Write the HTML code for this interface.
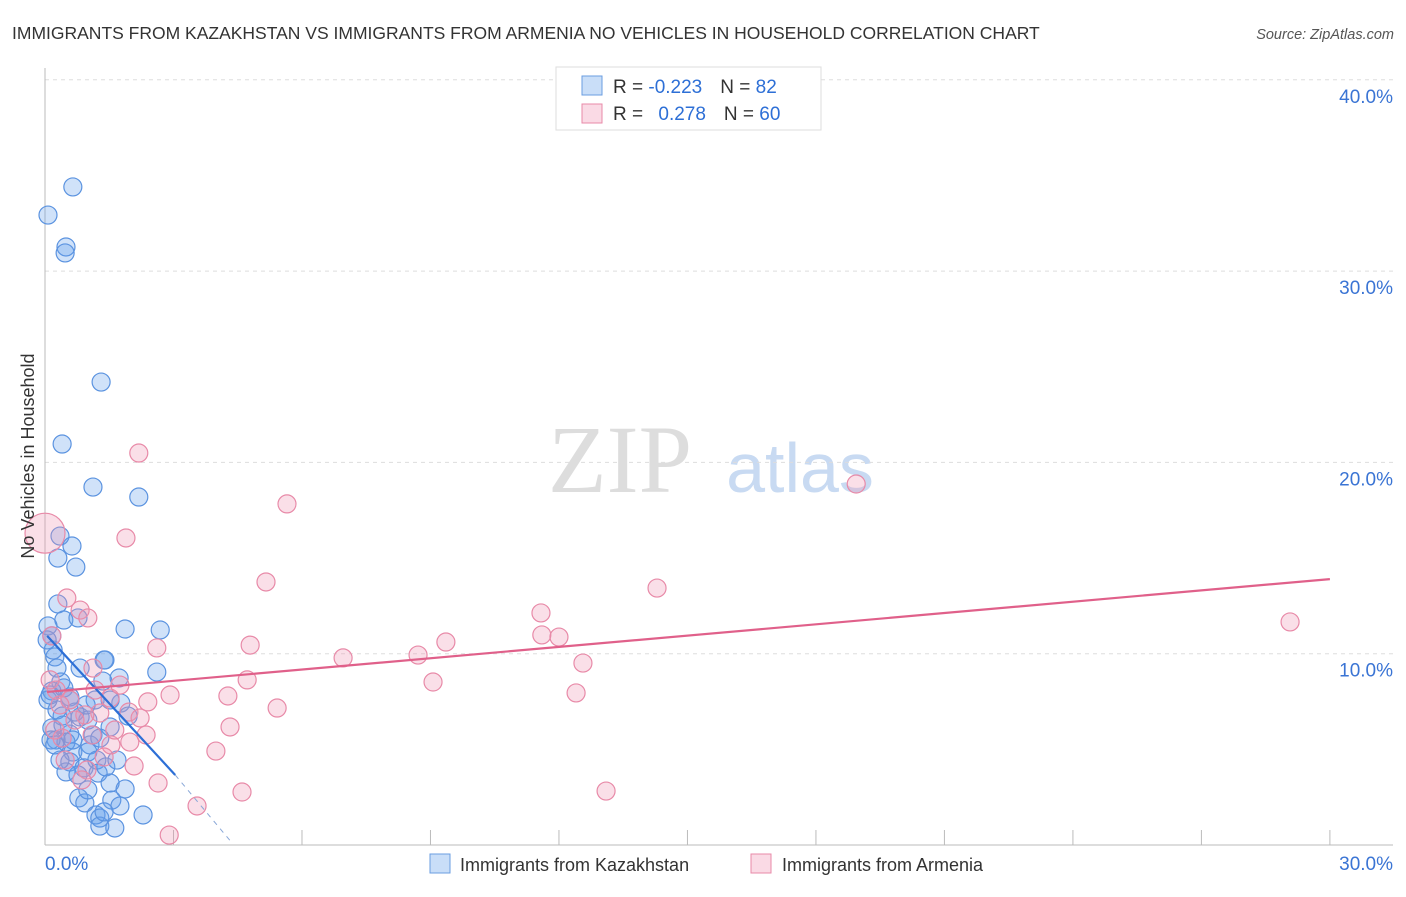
<!DOCTYPE html>
<html><head><meta charset="utf-8"><style>
body{margin:0;background:#fff;font-family:"Liberation Sans",sans-serif;}
svg text{font-family:"Liberation Sans",sans-serif;}
</style></head><body>
<svg id="chart" width="1406" height="892" viewBox="0 0 1406 892" xmlns="http://www.w3.org/2000/svg">
<text x="12" y="39" font-size="17.5" fill="#333">IMMIGRANTS FROM KAZAKHSTAN VS IMMIGRANTS FROM ARMENIA NO VEHICLES IN HOUSEHOLD CORRELATION CHART</text>
<text x="1394" y="39" font-size="14.5" fill="#555" font-style="italic" text-anchor="end">Source: ZipAtlas.com</text>
<text x="620" y="492" font-size="96" fill="#ddd" font-family="Liberation Serif" text-anchor="middle" style="font-family:'Liberation Serif',serif">ZIP</text>
<text x="800" y="492" font-size="70" fill="#c8daf2" text-anchor="middle">atlas</text>
<g id="grid"></g>
<g id="axes"></g>
<g id="marks"></g>
<text transform="translate(34,456) rotate(-90)" font-size="18" fill="#333" text-anchor="middle">No Vehicles in Household</text>
<g>
<rect x="556" y="67" width="265" height="63" fill="#fff" stroke="#ddd"/>
<rect x="582" y="76" width="20" height="19" fill="rgba(100,160,235,0.35)" stroke="#6a9de0"/>
<rect x="582" y="104" width="20" height="19" fill="rgba(240,150,180,0.35)" stroke="#e88aa8"/>
<text x="613" y="93" font-size="19" fill="#333">R = <tspan fill="#2d6fd6">-0.223</tspan><tspan dx="18">N = </tspan><tspan fill="#2d6fd6">82</tspan></text>
<text x="613" y="120" font-size="19" fill="#333">R = <tspan fill="#2d6fd6" dx="10">0.278</tspan><tspan dx="18">N = </tspan><tspan fill="#2d6fd6">60</tspan></text>
</g>
<g>
<rect x="430" y="854" width="20" height="19" fill="rgba(100,160,235,0.35)" stroke="#6a9de0"/>
<text x="460" y="871" font-size="18" fill="#333">Immigrants from Kazakhstan</text>
<rect x="751" y="854" width="20" height="19" fill="rgba(240,150,180,0.35)" stroke="#e88aa8"/>
<text x="782" y="871" font-size="18" fill="#333">Immigrants from Armenia</text>
</g>
</svg>
<script>
const yTicks=[10,20,30,40];
const yTickLabels=["10.0%","20.0%","30.0%","40.0%"];
const xTicks=[0,3,6,9,12,15,18,21,24,27,30];
const xEndLabels=["0.0%","30.0%"];
const kazX=[0.07,0.65,0.49,0.47,1.31,0.40,1.12,2.19,0.35,0.63,0.30,0.72,0.30,0.44,0.07,0.77,1.87,2.69,0.16,0.23,0.82,1.38,2.61,1.73,0.37,1.35,0.16,0.58,1.17,1.77,0.28,0.40,0.82,1.00,1.94,1.52,0.16,0.58,0.26,0.49,1.05,0.65,1.00,1.21,0.58,0.91,0.49,1.24,1.42,0.77,1.52,1.87,0.79,0.93,1.56,1.75,1.19,1.28,2.29,1.28,1.63,0.65,0.14,0.07,0.19,0.05,0.28,0.12,0.44,0.96,0.70,1.12,0.42,1.28,1.52,1.68,0.35,1.00,1.38,0.58,0.23,1.40];
const kazY=[32.93,34.40,31.26,30.95,24.20,20.96,18.71,18.19,16.15,15.63,15.00,14.53,12.60,11.76,11.45,11.87,11.29,11.24,10.93,9.83,9.25,9.67,9.04,8.73,8.52,8.57,8.05,7.74,7.58,7.42,7.06,6.74,6.69,6.53,6.74,6.17,6.12,5.80,5.49,5.38,5.23,4.86,4.86,4.44,4.34,4.03,3.82,3.76,4.08,3.66,3.24,2.93,2.46,2.20,2.35,2.04,1.57,1.41,1.57,0.99,0.89,5.49,5.49,7.58,10.19,10.72,9.25,7.84,8.21,7.32,6.95,5.75,6.27,5.59,7.58,4.44,4.44,2.88,1.73,7.58,5.23,9.67];
const armX=[0.0,2.19,5.65,1.89,18.94,5.16,14.29,11.58,29.07,0.51,0.82,1.00,0.16,4.79,11.60,12.00,9.36,6.96,8.71,12.56,2.61,1.12,4.72,9.06,0.26,2.92,1.52,0.58,4.27,12.40,2.40,1.96,5.42,1.28,0.93,2.22,4.32,1.10,0.40,1.54,1.98,3.99,2.08,0.98,2.64,4.60,3.55,13.10,2.90,0.70,0.35,0.23,1.17,1.38,0.12,1.75,0.86,0.47,1.63,2.36];
const armY=[16.3,20.49,17.83,16.05,18.87,13.75,13.43,12.13,11.66,12.91,12.28,11.87,10.93,10.45,10.98,10.87,10.61,9.78,9.93,9.51,10.30,9.25,8.63,8.52,8.10,7.84,7.68,7.58,7.79,7.95,7.48,6.95,7.16,6.90,6.80,6.64,6.17,5.75,5.59,5.23,5.38,4.91,4.13,3.92,3.24,2.77,2.04,2.82,0.52,6.53,7.32,6.01,8.10,4.60,8.63,8.36,3.40,4.44,6.01,5.75];
const kazTrend=[0.05,10.93,3.04,3.66,4.37,0.1];
const armTrend=[0.05,8.0,30,13.9];
const NS="http://www.w3.org/2000/svg";
const X=v=>45+v*42.83, Y=v=>845-v*19.13;
function mk(tag,attrs,parent){const e=document.createElementNS(NS,tag);for(const k in attrs)e.setAttribute(k,attrs[k]);document.getElementById(parent).appendChild(e);return e;}
yTicks.forEach((t,i)=>{
 const g=mk('line',{x1:45,x2:1393,y1:Y(t),y2:Y(t),stroke:'#ddd','stroke-dasharray':'4,4'},'grid');
 
 
 const l=mk('text',{x:1393,y:Y(t)+23,'font-size':19,fill:'#3a74d4','text-anchor':'end'},'grid');
 l.textContent=yTickLabels[i];
 
 
});
const ax=mk('line',{x1:45,x2:45,y1:68,y2:845,stroke:'#bbb'},'axes');


const bx=mk('line',{x1:45,x2:1393,y1:845,y2:845,stroke:'#bbb'},'axes');


xTicks.forEach(t=>{
 const tk=mk('line',{x1:X(t),x2:X(t),y1:830,y2:845,stroke:'#bbb'},'axes');
 
 
});
[[0,'start',45],[30,'end',1393]].forEach((a,i)=>{
 const l=mk('text',{x:a[2],y:870,'font-size':19,fill:'#3a74d4','text-anchor':a[1]},'axes');
 l.textContent=xEndLabels[i];
 
 
});
kazX.forEach((v,i)=>{
 const c=mk('circle',{cx:X(v),cy:Y(kazY[i]),r:9,fill:'rgba(100,160,235,0.3)',stroke:'#5b93e0','stroke-width':1.2},'marks');
 
 
});
armX.forEach((v,i)=>{
 const c=mk('circle',{cx:X(v),cy:Y(armY[i]),r:i===0?20:9,fill:'rgba(240,150,180,0.3)',stroke:'#e88aa8','stroke-width':1.2},'marks');
 
 
});
const kl=mk('line',{x1:X(kazTrend[0]),y1:Y(kazTrend[1]),x2:X(kazTrend[2]),y2:Y(kazTrend[3]),stroke:'#2d6fd6','stroke-width':2.2},'marks');


const kd=mk('line',{x1:X(kazTrend[2]),y1:Y(kazTrend[3]),x2:X(kazTrend[4]),y2:Y(kazTrend[5]),stroke:'#8aa8d8','stroke-width':1,'stroke-dasharray':'5,5'},'marks');


const al=mk('line',{x1:X(armTrend[0]),y1:Y(armTrend[1]),x2:X(armTrend[2]),y2:Y(armTrend[3]),stroke:'#e0608a','stroke-width':2.2},'marks');


</script>
</body></html>
